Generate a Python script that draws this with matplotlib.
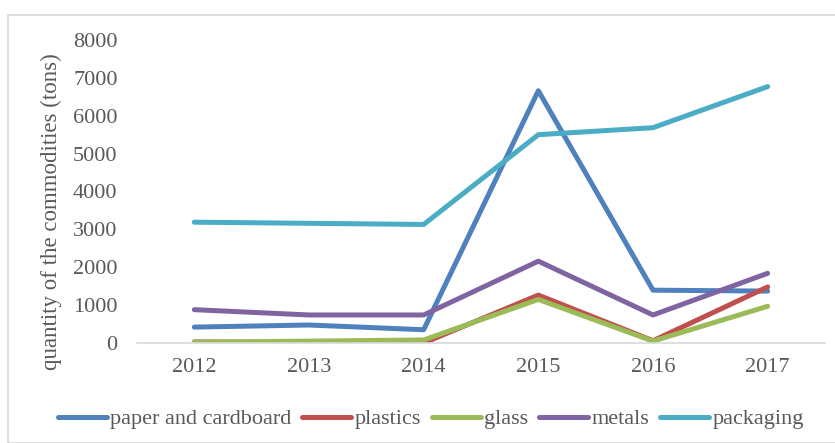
import matplotlib
matplotlib.use("Agg")
import matplotlib.pyplot as plt
from matplotlib.patches import Rectangle

years = ["2012", "2013", "2014", "2015", "2016", "2017"]
paper = [420, 475, 350, 6660, 1395, 1370]
plastics = [30, 10, 0, 1265, 60, 1480]
glass = [20, 50, 80, 1150, 50, 970]
metals = [880, 740, 740, 2160, 740, 1840]
packaging = [3190, 3160, 3130, 5500, 5685, 6770]
series_names = ["paper and cardboard", "plastics", "glass", "metals", "packaging"]
colors = ["#4F81BD", "#C0504D", "#9BBB59", "#8064A2", "#4BACC6"]
yticks = [0, 1000, 2000, 3000, 4000, 5000, 6000, 7000, 8000]

plt.rcParams['font.family'] = ['Liberation Serif', 'DejaVu Serif']

W, H = 835, 443
fig = plt.figure(figsize=(W/100, H/100), dpi=100)
fig.patches.append(Rectangle((8/W, 0), 1, 1 - 15/H, transform=fig.transFigure,
                             fill=False, edgecolor="#D9D9D9", linewidth=1.2))

left, right, bottom, top = 137/W, 825/W, 1 - 343/H, 1 - 40/H
ax = fig.add_axes([left, bottom, right - left, top - bottom])
x = list(range(len(years)))
for vals, name, c in zip([paper, plastics, glass, metals, packaging], series_names, colors):
    ax.plot(x, vals, color=c, lw=3.6, label=name, solid_capstyle='round', solid_joinstyle='round')

ax.set_xlim(-0.5, len(years) - 0.5)
ax.set_ylim(0, 8000)
ax.set_yticks(yticks)
ax.set_yticklabels([str(v) for v in yticks], fontsize=16, color="#595959")
ax.set_xticks(x)
ax.set_xticklabels(years, fontsize=16, color="#595959")
ax.tick_params(axis='y', length=0, pad=14)
ax.tick_params(axis='x', length=0, pad=11)
for s in ["top", "right", "left"]:
    ax.spines[s].set_visible(False)
ax.spines["bottom"].set_color("#D9D9D9")
ax.spines["bottom"].set_linewidth(1.2)
ax.set_ylabel("quantity of the commodities (tons)", fontsize=16.5, color="#595959")
ax.yaxis.set_label_coords(-0.109, 0.435)

fig.legend(loc="center", bbox_to_anchor=(0.516, 1 - 419/H), ncol=5, frameon=False,
           fontsize=16, handlelength=2.2, columnspacing=0.5, handletextpad=0.15,
           labelcolor="#595959")

fig.savefig("out.png", dpi=100)
